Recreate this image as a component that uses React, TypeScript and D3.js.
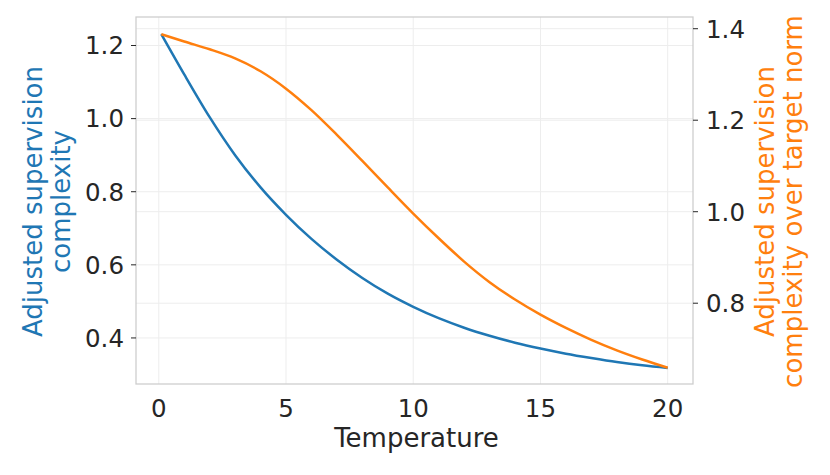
import { useMemo } from "react";
import * as d3 from "d3";

// Temperature sweep (x) and the two read-off series
const temperature = [0.1, 1, 2, 3, 4, 5, 6, 7, 8, 9, 10, 11, 12, 13, 14, 15, 16, 17, 18, 19, 20];
const complexity = [
  1.231, 1.121, 1.004, 0.9, 0.812, 0.737, 0.671, 0.614, 0.564, 0.521, 0.485,
  0.454, 0.428, 0.406, 0.387, 0.371, 0.357, 0.345, 0.334, 0.325, 0.318,
];
const complexityOverNorm = [
  1.388, 1.372, 1.355, 1.335, 1.307, 1.269, 1.222, 1.168, 1.111, 1.053, 0.996,
  0.942, 0.891, 0.846, 0.808, 0.775, 0.746, 0.72, 0.697, 0.677, 0.659,
];
const xTicks = [0, 5, 10, 15, 20];
const leftTicks = [0.4, 0.6, 0.8, 1.0, 1.2];
const rightTicks = [0.8, 1.0, 1.2, 1.4];

const W = 830;
const H = 475;
const PLOT = { left: 136, right: 693, top: 17, bottom: 384 };
const BLUE = "#1f77b4";
const ORANGE = "#ff7f0e";
const TEXT = "#262626";
const GRID = "#ededed";
const FONT = "'DejaVu Sans', sans-serif";
const TICK_SIZE = 24.5;
const LABEL_SIZE = 26;

export default function App() {
  const x = useMemo(
    () => d3.scaleLinear().domain([-0.895, 20.995]).range([PLOT.left, PLOT.right]),
    []
  );
  const yLeft = useMemo(
    () => d3.scaleLinear().domain([0.274, 1.278]).range([PLOT.bottom, PLOT.top]),
    []
  );
  const yRight = useMemo(
    () => d3.scaleLinear().domain([0.6234, 1.4256]).range([PLOT.bottom, PLOT.top]),
    []
  );

  const blueLine = d3
    .line<number>()
    .x((_, i) => x(temperature[i]))
    .y((d) => yLeft(d))
    .curve(d3.curveMonotoneX)(complexity);
  const orangeLine = d3
    .line<number>()
    .x((_, i) => x(temperature[i]))
    .y((d) => yRight(d))
    .curve(d3.curveMonotoneX)(complexityOverNorm);

  const midY = (PLOT.top + PLOT.bottom) / 2 + 1;

  return (
    <svg
      width={W}
      height={H}
      style={{ position: "absolute", left: 0, top: 0, background: "#fff" }}
      fontFamily={FONT}
    >
      {/* grid */}
      {xTicks.map((t) => (
        <line key={`gx${t}`} x1={x(t)} x2={x(t)} y1={PLOT.top} y2={PLOT.bottom} stroke={GRID} strokeWidth={1} />
      ))}
      {leftTicks.map((t) => (
        <line key={`gl${t}`} x1={PLOT.left} x2={PLOT.right} y1={yLeft(t)} y2={yLeft(t)} stroke={GRID} strokeWidth={1} />
      ))}
      {rightTicks.map((t) => (
        <line key={`gr${t}`} x1={PLOT.left} x2={PLOT.right} y1={yRight(t)} y2={yRight(t)} stroke={GRID} strokeWidth={1} />
      ))}

      {/* series */}
      <path d={blueLine ?? ""} fill="none" stroke={BLUE} strokeWidth={2.5} strokeLinejoin="round" />
      <path d={orangeLine ?? ""} fill="none" stroke={ORANGE} strokeWidth={2.5} strokeLinejoin="round" />

      {/* frame */}
      <rect
        x={PLOT.left}
        y={PLOT.top}
        width={PLOT.right - PLOT.left}
        height={PLOT.bottom - PLOT.top}
        fill="none"
        stroke="#cccccc"
        strokeWidth={1.25}
      />

      {/* left axis */}
      {leftTicks.map((t) => (
        <g key={`lt${t}`}>
          <line x1={PLOT.left - 5} x2={PLOT.left} y1={yLeft(t)} y2={yLeft(t)} stroke={TEXT} strokeWidth={1} />
          <text x={PLOT.left - 12} y={yLeft(t)} dy="0.36em" textAnchor="end" fontSize={TICK_SIZE} fill={TEXT}>
            {d3.format(".1f")(t)}
          </text>
        </g>
      ))}

      {/* right axis */}
      {rightTicks.map((t) => (
        <g key={`rt${t}`}>
          <line x1={PLOT.right} x2={PLOT.right + 5} y1={yRight(t)} y2={yRight(t)} stroke={TEXT} strokeWidth={1} />
          <text x={PLOT.right + 13} y={yRight(t)} dy="0.36em" textAnchor="start" fontSize={TICK_SIZE} fill={TEXT}>
            {d3.format(".1f")(t)}
          </text>
        </g>
      ))}

      {/* x axis */}
      {xTicks.map((t) => (
        <text key={`xt${t}`} x={x(t)} y={416.5} textAnchor="middle" fontSize={TICK_SIZE} fill={TEXT}>
          {t}
        </text>
      ))}
      <text x={(PLOT.left + PLOT.right) / 2 + 2} y={446.5} textAnchor="middle" fontSize={LABEL_SIZE} fill={TEXT}>
        Temperature
      </text>

      {/* left label */}
      <g transform={`translate(0,${midY}) rotate(-90)`}>
        <text x={0} y={41.7} textAnchor="middle" fontSize={LABEL_SIZE} fill={BLUE}>
          Adjusted supervision
        </text>
        <text x={0} y={70} textAnchor="middle" fontSize={LABEL_SIZE} fill={BLUE}>
          complexity
        </text>
      </g>

      {/* right label */}
      <g transform={`translate(0,${midY}) rotate(-90)`}>
        <text x={0} y={773.8} textAnchor="middle" fontSize={LABEL_SIZE} fill={ORANGE}>
          Adjusted supervision
        </text>
        <text x={0} y={802} textAnchor="middle" fontSize={LABEL_SIZE} fill={ORANGE}>
          complexity over target norm
        </text>
      </g>
    </svg>
  );
}
